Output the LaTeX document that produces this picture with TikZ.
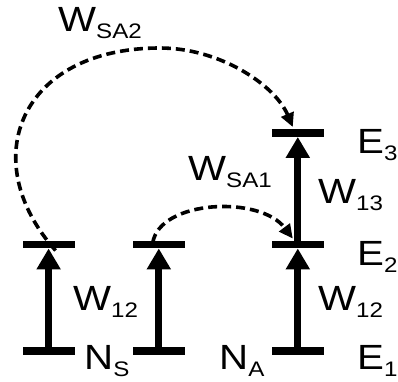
\documentclass[tikz,border=0pt]{standalone}
\usepackage{fontspec}
\setmainfont[FakeStretch=1.15]{Liberation Sans}
\usetikzlibrary{arrows.meta}
% lowered, smaller index text
\newcommand\lowsub[1]{\raisebox{-7pt}{\fontsize{21}{21}\selectfont #1}}

\begin{document}
\begin{tikzpicture}[x=1pt,y=-1pt,
  level/.style={fill=black, inner sep=0pt, minimum width=52pt, minimum height=7.5pt},
  pump/.style={line width=7pt, -{Triangle[length=21pt,width=23pt]}},
  transfer/.style={line width=3.6pt, dash pattern=on 9pt off 5pt, -{Triangle[length=14pt,width=13pt]}},
  lbl/.style={anchor=base west, inner sep=0pt, font=\fontsize{35}{35}\selectfont},
]
\useasboundingbox (0,0) rectangle (398,381);

% energy levels: sensitizer (two columns) and acceptor
\node[level] (s1) at (48.6,351) {};
\node[level] (s2) at (48.6,244.5) {};
\node[level] (m1) at (158.8,351) {};
\node[level] (m2) at (158.8,244.5) {};
\node[level] (a1) at (297.8,351) {};
\node[level] (a2) at (297.8,244.5) {};
\node[level] (a3) at (297.8,133) {};

% absorption
\draw[pump] (s1.north) -- (s2.south);
\draw[pump] (m1.north) -- (m2.south);
\draw[pump] (a1.north) -- (a2.south);
\draw[pump] (a2.north) -- (a3.south);

% energy transfer
\coordinate (top2) at (160,48);
\draw[transfer] ([xshift=7pt,yshift=-6pt]s2.center)
  .. controls (-25,160) and (20,48) .. (top2)
  .. controls (220,48) and (275,85) .. ([xshift=-5pt,yshift=2pt]a3.north);
\draw[transfer] ([xshift=-6pt,yshift=2pt]m2.center)
  .. controls (160,200) and (260,195) .. ([xshift=-5pt,yshift=2pt]a2.north);

% labels
\node[lbl] (wsa2) at (58,31.7) {W\lowsub{SA2}};
\node[lbl] (wsa1) at (188,180) {W\lowsub{SA1}};
\node[lbl] (w13) at (318,203) {W\lowsub{13}};
\node[lbl] (w12s) at (73,310) {W\lowsub{12}};
\node[lbl] (w12a) at (318,310) {W\lowsub{12}};
\node[lbl] (ns) at (84,369) {N\lowsub{S}};
\node[lbl] (na) at (219,369) {N\lowsub{A}};
\node[lbl] (e1) at (357,369) {E\lowsub{1}};
\node[lbl] (e2) at (357,265) {E\lowsub{2}};
\node[lbl] (e3) at (357,153) {E\lowsub{3}};
\end{tikzpicture}
\end{document}
